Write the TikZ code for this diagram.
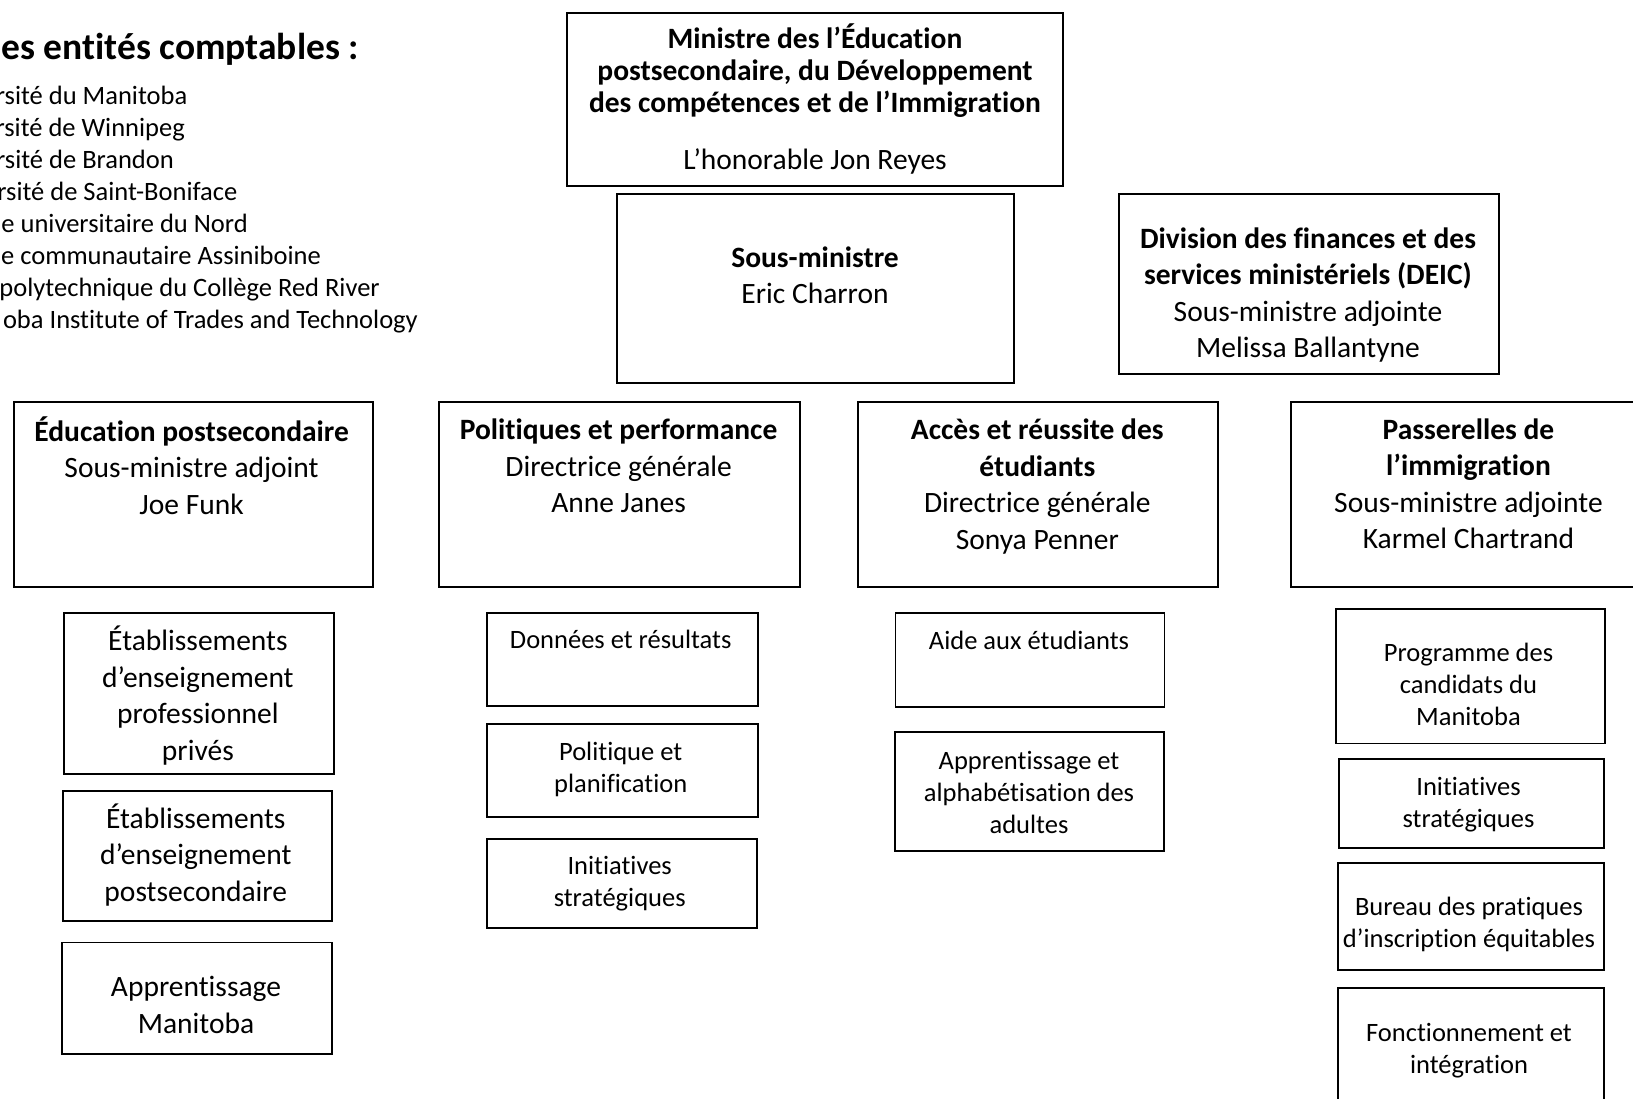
\documentclass[tikz,border=0pt]{standalone}
\usepackage{fontspec}
\setmainfont{Carlito}[Ligatures={NoCommon}]
\begin{document}
\begin{tikzpicture}[x=1pt,y=-1pt,
  box/.style={draw, line width=1.8pt, inner sep=0pt, anchor=north west},
  big/.style={inner sep=0pt, align=center, font=\fontsize{29.5}{36.5}\selectfont},
  small/.style={inner sep=0pt, align=center, font=\fontsize{26.5}{32}\selectfont},
  listitem/.style={inner sep=0pt, anchor=base east, font=\fontsize{26.5}{32}\selectfont}]
\useasboundingbox (0,0) rectangle (1633,1098);
\begin{scope}
\clip (0,0) rectangle (1633,1098);
\fill[white] (0,0) rectangle (1633,1098);
% title and list
\node[inner sep=0pt, anchor=base east, font=\fontsize{37.5}{45}\selectfont\bfseries] (title) at (359,59.5) {es entités comptables :};
\node[listitem] (l1) at (187.5,104) {rsité du Manitoba};
\node[listitem] (l2) at (185,136) {rsité de Winnipeg};
\node[listitem] (l3) at (174,168) {rsité de Brandon};
\node[listitem] (l4) at (237.5,200) {rsité de Saint-Boniface};
\node[listitem] (l5) at (248,232) {e universitaire du Nord};
\node[listitem] (l6) at (321,264) {e communautaire Assiniboine};
\node[listitem] (l7) at (380,296) {polytechnique du Collège Red River};
\node[listitem] (l8) at (418,328) {oba Institute of Trades and Technology};
% boxes
\node[box, minimum width=496pt, minimum height=173pt] (min) at (566,12) {};
\node[box, minimum width=397pt, minimum height=189pt] (sm) at (616,193) {};
\node[box, minimum width=380pt, minimum height=180pt] (deic) at (1118,193) {};
\node[box, minimum width=359pt, minimum height=185pt] (educ) at (13,401) {};
\node[box, minimum width=361pt, minimum height=185pt] (polit) at (438,401) {};
\node[box, minimum width=360pt, minimum height=185pt] (acces) at (857,401) {};
\node[box, minimum width=360pt, minimum height=185pt] (pass) at (1290,401) {};
\node[box, minimum width=270pt, minimum height=161pt] (etab1) at (63,612) {};
\node[box, minimum width=269pt, minimum height=130pt] (etab2) at (62,790) {};
\node[box, minimum width=270pt, minimum height=111.5pt] (appr) at (61,941.5) {};
\node[box, minimum width=271pt, minimum height=93pt] (donn) at (486,612) {};
\node[box, minimum width=271pt, minimum height=93pt] (polplan) at (486,723) {};
\node[box, minimum width=270pt, minimum height=89pt] (init) at (486,838) {};
\node[box, minimum width=269pt, minimum height=94pt] (aide) at (894.5,612) {};
\node[box, minimum width=269pt, minimum height=119pt] (alph) at (894,731) {};
\node[box, minimum width=269pt, minimum height=134.5pt] (prog) at (1335,608) {};
\node[box, minimum width=265pt, minimum height=89pt] (initp) at (1338,758) {};
\node[box, minimum width=266pt, minimum height=107pt] (bur) at (1337,862) {};
\node[box, minimum width=266pt, minimum height=140pt] (fonct) at (1337,987) {};
% texts
\node[inner sep=0pt, align=center, font=\fontsize{29.5}{32.3}\selectfont\bfseries] (tmin) at (815,70.8) {Ministre des l’Éducation\\postsecondaire, du Développement\\des compétences et de l’Immigration};
\node[big] (thon) at (815,161.3) {L’honorable Jon Reyes};
\node[big] (tsm) at (815,275.5) {\textbf{Sous-ministre}\\Eric Charron};
\node[big] (tdeic) at (1308,294.8) {\textbf{Division des finances et des}\\\textbf{services ministériels (DEIC)}\\Sous-ministre adjointe\\Melissa Ballantyne};
\node[big] (teduc) at (191.6,465.5) {\textbf{Éducation postsecondaire}\\Sous-ministre adjoint\\Joe Funk};
\node[big] (tpolit) at (618.6,466) {\textbf{Politiques et performance}\\Directrice générale\\Anne Janes};
\node[big] (tacces) at (1037.3,486.7) {\textbf{Accès et réussite des}\\\textbf{étudiants}\\Directrice générale\\Sonya Penner};
\node[big] (tpass) at (1468.5,483.7) {\textbf{Passerelles de}\\\textbf{l’immigration}\\Sous-ministre adjointe\\Karmel Chartrand};
\node[big] (tetab1) at (197.9,695.6) {Établissements\\d’enseignement\\professionnel\\privés};
\node[big] (tetab2) at (195.8,854.6) {Établissements\\d’enseignement\\postsecondaire};
\node[big] (tappr) at (196,1005) {Apprentissage\\Manitoba};
\node[small] (tdonn) at (620.7,639.5) {Données et résultats};
\node[small] (tpolplan) at (620.7,769.1) {Politique et\\planification};
\node[small] (tinit) at (619.7,883.7) {Initiatives\\stratégiques};
\node[small] (taide) at (1029,640.5) {Aide aux étudiants};
\node[small] (talph) at (1029,792.1) {Apprentissage et\\alphabétisation des\\adultes};
\node[small] (tprog) at (1468.5,684.3) {Programme des\\candidats du\\Manitoba};
\node[small] (tinitp) at (1468.5,805) {Initiatives\\stratégiques};
\node[small] (tbur) at (1469,924.2) {Bureau des pratiques\\d’inscription équitables};
\node[small] (tfonct) at (1469,1050.7) {Fonctionnement et\\intégration};
\end{scope}
\end{tikzpicture}
\end{document}
